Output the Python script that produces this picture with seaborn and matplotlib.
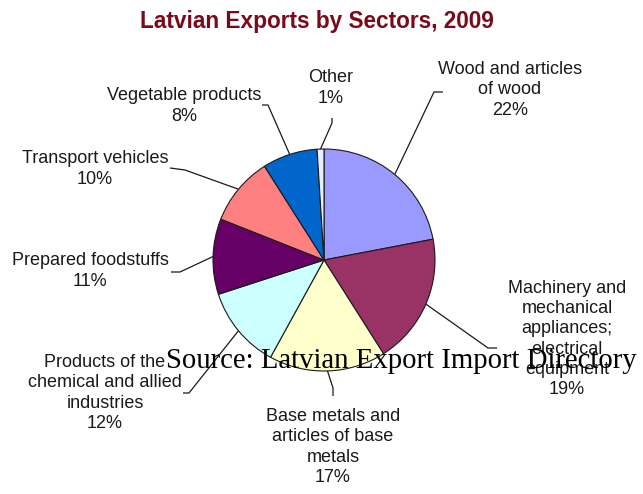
import numpy as np
import matplotlib
matplotlib.use("Agg")
import matplotlib.pyplot as plt
import seaborn as sns

# Export shares by sector, clockwise from 12 o'clock
sectors = [
    "Wood and articles\nof wood",
    "Machinery and\nmechanical\nappliances;\nelectrical\nequipment",
    "Base metals and\narticles of base\nmetals",
    "Products of the\nchemical and allied\nindustries",
    "Prepared foodstuffs",
    "Transport vehicles",
    "Vegetable products",
    "Other",
]
shares = [22, 19, 17, 12, 11, 10, 8, 1]
colors = ["#9999FF", "#993366", "#FFFFCC", "#CCFFFF",
          "#660066", "#FF8080", "#0066CC", "#E8EEFF"]

sns.set_theme(style="white")
plt.rcParams["font.family"] = ["Liberation Sans", "DejaVu Sans"]

W, H = 643, 494
fig = plt.figure(figsize=(W / 100, H / 100), dpi=100)
ax = fig.add_axes([0, 0, 1, 1])

def px(x, y):
    """Pixel position (top-left origin) to data coordinates."""
    return x, H - y

cx, cy = px(324, 260)
R = 111
wedges, _ = ax.pie(shares, colors=sns.color_palette(colors), startangle=90,
                   counterclock=False, center=(cx, cy), radius=R,
                   wedgeprops=dict(edgecolor="#1a1a1a", linewidth=0.8))
ax.set_xlim(0, W)
ax.set_ylim(0, H)
ax.set_aspect("equal")
ax.axis("off")

# label text centre, leader elbow, leader end (short horizontal tick)
label_layout = [
    ((510, 90), (434, 92), (443, 92)),
    ((567, 339), (488, 348), (497, 348)),
    ((333, 447), (333, 388), (333, 396)),
    ((105, 393), (189, 393), (183, 393)),
    ((90, 271), (180, 272), (171, 272)),
    ((95, 169), (185, 170), (170, 168)),
    ((184, 106), (268, 105), (262, 105)),
    ((331, 88), (332, 123), (332, 118)),
]

for w, name, val, (txt, elbow, tick) in zip(wedges, sectors, shares, label_layout):
    mid = np.deg2rad((w.theta1 + w.theta2) / 2)
    ex, ey = cx + R * np.cos(mid), cy + R * np.sin(mid)
    e2, t2 = px(*elbow), px(*tick)
    ax.plot([ex, e2[0], t2[0]], [ey, e2[1], t2[1]], color="#1a1a1a",
            lw=0.9, solid_capstyle="butt", zorder=3)
    tx, ty = px(*txt)
    ax.text(tx, ty, f"{name}\n{val}%", ha="center", va="center",
            fontsize=13, color="#1a1a1a", linespacing=1.25, zorder=4)

ax.text(*px(317, 22), "Latvian Exports by Sectors, 2009", ha="center",
        va="center", fontsize=16.3, fontweight="bold", color="#7a0a1a")

ax.text(*px(401, 361), "Source: Latvian Export Import Directory",
        ha="center", va="center", fontsize=20.7, color="black",
        family=["Liberation Serif", "DejaVu Serif"], zorder=5)

fig.savefig("out.png", dpi=100, facecolor="white")
